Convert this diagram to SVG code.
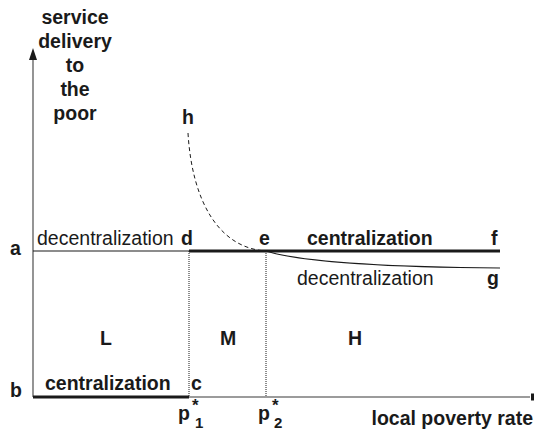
<svg xmlns="http://www.w3.org/2000/svg" width="535" height="432" viewBox="0 0 535 432">
<style>
text{font-family:"Liberation Sans",Arial,sans-serif;font-size:19.5px;fill:#1a1a1a}
.b{font-weight:bold}
.axis{stroke:#7a7a7a;stroke-width:1.6;fill:none}
.thin{stroke:#1a1a1a;stroke-width:1.2;fill:none}
.thick{stroke:#1a1a1a;stroke-width:3;fill:none}
.dot{stroke:#1a1a1a;stroke-width:1;stroke-dasharray:1,1;fill:none}
.dash{stroke:#1a1a1a;stroke-width:1;stroke-dasharray:4,3;fill:none}
.sm{font-size:15px}
.st{font-size:17px}
</style>
<rect width="535" height="432" fill="#ffffff"/>
<g id="connectors">
<line class="axis" x1="33" y1="397" x2="33" y2="60"/>
<polygon points="33,48 29,60 37,60" fill="#1a1a1a"/>
<line class="axis" x1="33" y1="397" x2="530" y2="397"/>
<rect x="531" y="393.5" width="3" height="7" fill="#1a1a1a"/>
<line class="thin" x1="33" y1="251" x2="189" y2="251"/>
<line class="thick" x1="189" y1="251" x2="500" y2="251"/>
<line class="thick" x1="33" y1="397" x2="189" y2="397"/>
<line class="dot" x1="189" y1="251" x2="189" y2="397"/>
<line class="dot" x1="266" y1="251" x2="266" y2="397"/>
<path class="dash" d="M188,133 C192,200 218,248 266,251"/>
<path class="thin" d="M266,251 C300,262 380,267 500,268"/>
</g>
<g id="y-label">
<text class="b" x="75" y="24" text-anchor="middle">service</text>
<text class="b" x="75" y="48" text-anchor="middle">delivery</text>
<text class="b" x="75" y="72" text-anchor="middle">to</text>
<text class="b" x="75" y="96" text-anchor="middle">the</text>
<text class="b" x="75" y="120" text-anchor="middle">poor</text>
</g>
<g id="x-label"><text class="b" x="533" y="425" text-anchor="end">local poverty rate</text></g>
<g id="node-a"><text class="b" x="10" y="255">a</text></g>
<g id="node-b"><text class="b" x="10" y="397">b</text></g>
<g id="node-h"><text class="b" x="182" y="124">h</text></g>
<g id="node-d"><text class="b" x="181" y="245">d</text></g>
<g id="node-e"><text class="b" x="259" y="245">e</text></g>
<g id="node-f"><text class="b" x="491" y="245">f</text></g>
<g id="node-g"><text class="b" x="487" y="285">g</text></g>
<g id="node-c"><text class="b" x="191" y="390">c</text></g>
<g id="labels">
<text x="37" y="245">decentralization</text>
<text class="b" x="307" y="245">centralization</text>
<text x="297" y="285">decentralization</text>
<text class="b" x="45" y="390">centralization</text>
<text class="b" x="100" y="345">L</text>
<text class="b" x="220" y="345">M</text>
<text class="b" x="348" y="345">H</text>
</g>
<g id="p1">
<text class="b" x="178" y="420">p</text>
<text class="b st" x="192" y="411">*</text>
<text class="b sm" x="195" y="428">1</text>
</g>
<g id="p2">
<text class="b" x="258" y="420">p</text>
<text class="b st" x="272" y="411">*</text>
<text class="b sm" x="274" y="428">2</text>
</g>
</svg>
